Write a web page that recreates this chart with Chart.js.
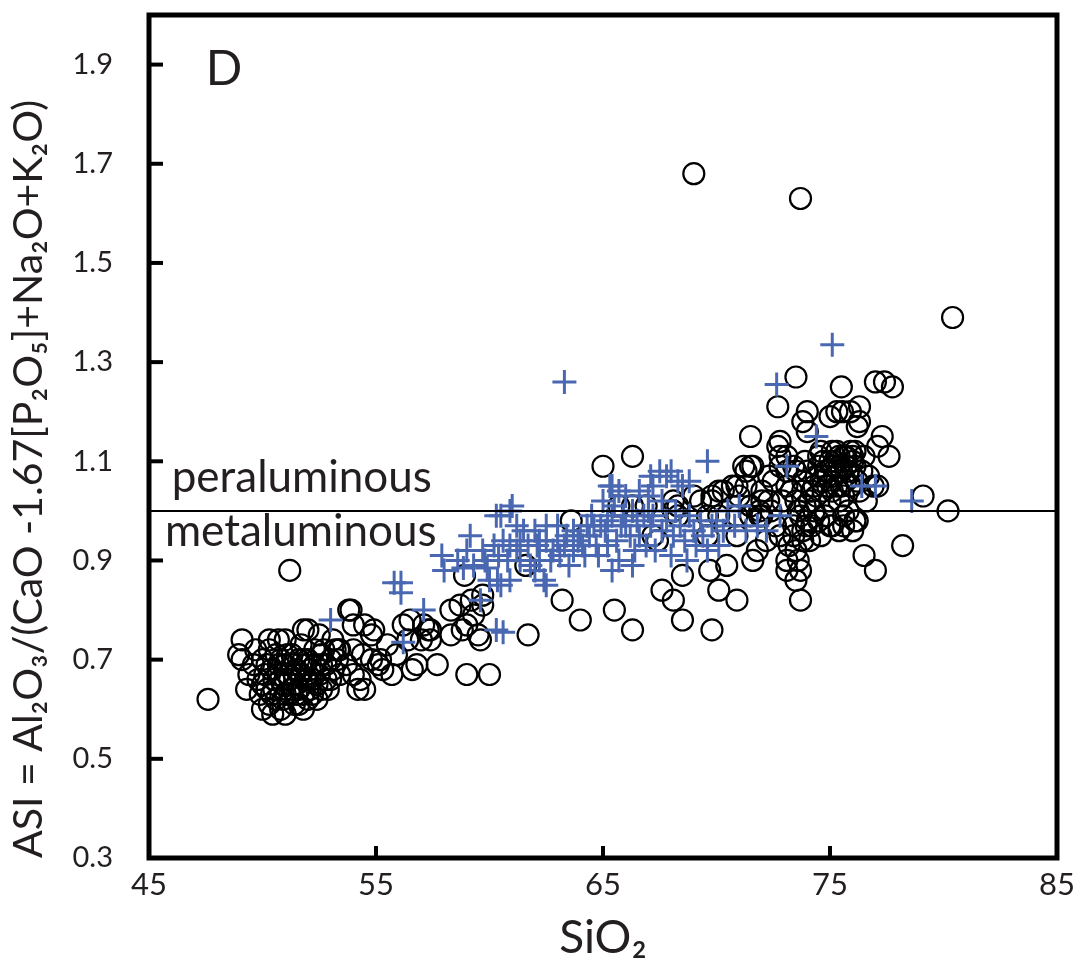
<!DOCTYPE html>
<html>
<head>
<meta charset="utf-8">
<script src="https://cdn.jsdelivr.net/npm/chart.js@4"></script>
<style>
  html, body { margin: 0; padding: 0; background: #fff; }
  #wrap { width: 1082px; height: 970px; }
</style>
</head>
<body>
<div id="wrap"><canvas id="asiChart" width="1082" height="970"></canvas></div>
<script>
// --- Data (SiO2 wt%, ASI) ---
const xTicks = [45, 55, 65, 75, 85];
const yTicks = [0.3, 0.5, 0.7, 0.9, 1.1, 1.3, 1.5, 1.7, 1.9];
const boundary = [[45, 1.0], [85, 1.0]];

// open circles
const circlePoints = [
  // isolated
  [47.6,0.62],[51.2,0.88],[69.0,1.68],[73.7,1.63],[80.4,1.39],[73.5,1.27],[80.2,1.00],[79.1,1.03],[78.2,0.93],[77.0,0.88],[76.5,0.91],
  // upper right group
  [75.5,1.25],[77.0,1.26],[77.4,1.26],[77.75,1.25],[72.7,1.21],[74.0,1.20],[73.8,1.18],[74.0,1.16],[75.0,1.19],[75.3,1.20],[75.55,1.20],
  [75.9,1.20],[76.3,1.21],[76.3,1.18],[76.2,1.17],[77.3,1.15],[77.1,1.13],[77.6,1.11],[72.7,1.13],[71.5,1.15],[72.8,1.14],
  // dense 74.5-76.3
  [74.6,1.06],[74.8,1.08],[75.0,1.10],[75.2,1.07],[75.4,1.09],[75.6,1.11],[75.8,1.08],[76.0,1.10],[76.2,1.06],[75.1,1.04],[74.9,1.05],
  [75.5,1.05],[75.7,1.06],[75.9,1.12],[76.1,1.09],[74.7,1.10],[75.3,1.12],[74.4,1.07],[75.6,1.03],[76.3,1.04],[74.2,1.04],[74.0,1.08],
  [73.8,1.06],[76.0,1.07],[75.2,1.10],[75.4,1.02],[75.8,1.00],[76.2,0.98],[76.6,1.02],[76.9,1.05],[77.1,1.05],[76.0,0.96],[75.6,0.97],
  [74.8,0.99],[75.0,0.97],[75.6,0.99],[76.1,0.98],[75.4,0.96],
  [74.5,1.09],[74.7,1.04],[74.9,1.07],[75.1,1.09],[75.3,1.05],[75.5,1.08],[75.7,1.09],[75.9,1.05],[76.1,1.12],[74.6,1.12],[75.4,1.11],
  [75.0,1.02],[74.4,1.03],[73.9,1.01],[74.2,0.97],[74.6,0.95],[76.4,1.08],[76.5,1.11],[76.7,1.07],
  // 72-74 group
  [72.8,1.09],[73.1,1.11],[72.5,1.06],[73.1,1.05],[73.5,1.02],[73.7,0.99],[73.4,0.97],[73.8,0.96],[74.1,0.94],[73.95,0.97],[74.5,0.98],
  [75.1,0.97],[72.2,0.94],[71.8,0.92],[71.6,0.90],[73.1,0.90],[73.1,0.88],[73.5,0.86],[73.7,0.82],[73.5,1.08],[73.8,1.04],[74.1,1.02],
  [74.3,1.00],[73.3,1.04],[72.9,1.02],[74.0,0.98],[73.6,1.00],[74.3,1.05],[73.9,1.10],[72.0,1.04],[72.3,1.02],[72.0,0.99],[72.6,0.97],
  [72.4,1.00],[72.8,0.95],[73.2,0.93],[73.5,0.92],[73.8,0.94],[73.4,0.95],[73.6,0.90],[73.7,0.88],
  // 66-72 along the boundary
  [66.9,1.01],[68.1,1.02],[68.1,1.00],[69.0,1.03],[69.3,1.02],[69.8,1.02],[70.3,1.04],[70.7,1.05],[71.0,1.03],[71.5,1.01],[71.9,1.00],
  [72.0,1.02],[69.6,0.99],[70.1,0.99],[70.9,0.99],[71.5,0.99],[71.9,0.99],[67.2,0.95],[67.4,0.94],[69.6,0.95],[70.9,0.95],[71.2,1.09],
  [71.5,1.09],[70.1,1.04],[70.9,1.05],[71.3,1.05],[71.6,1.09],[71.3,1.08],[72.8,1.11],[73.4,1.09],[73.1,1.08],[72.3,1.07],[74.5,1.11],
  [75.1,1.12],[75.7,1.11],[76.0,1.11],[65.7,1.01],[66.3,1.01],[68.3,1.01],[68.3,0.99],[69.8,1.03],
  // scattered below the boundary
  [65.0,1.09],[66.3,1.11],[63.6,0.98],[61.6,0.89],[58.9,0.87],[63.2,0.82],[64.0,0.78],[65.5,0.80],[66.3,0.76],[67.6,0.84],[68.1,0.82],
  [68.5,0.78],[68.5,0.87],[69.7,0.88],[70.1,0.84],[69.8,0.76],[70.45,0.89],[70.9,0.82],[61.7,0.75],
  // 53-60
  [53.9,0.80],[54.0,0.77],[54.9,0.76],[56.2,0.77],[57.1,0.77],[57.4,0.76],[58.3,0.80],[58.7,0.81],[59.2,0.82],[59.7,0.83],[59.7,0.81],
  [59.3,0.79],[59.0,0.77],[59.5,0.75],[59.6,0.74],[58.8,0.76],[58.3,0.75],[59.0,0.67],[60.0,0.67],[57.7,0.69],[56.8,0.69],[56.6,0.68],
  [55.2,0.70],[55.3,0.68],[56.5,0.78],[57.0,0.74],[56.4,0.74],[57.4,0.74],[57.3,0.76],
  [53.1,0.74],[53.4,0.72],[53.7,0.69],[54.0,0.67],[54.3,0.66],[54.5,0.64],[54.2,0.64],[54.8,0.70],[55.1,0.69],[54.4,0.71],[54.0,0.72],
  [53.35,0.72],[54.5,0.77],[54.8,0.75],[53.8,0.80],[55.5,0.73],[55.9,0.71],[55.7,0.67],[53.4,0.67],[53.0,0.66],[52.6,0.64],
  // basalt cluster
  [49.1,0.74],[48.95,0.71],[49.1,0.70],[50.3,0.74],[50.7,0.74],[51.0,0.74],[51.8,0.76],[52.0,0.76],[52.5,0.75],[50.0,0.60],[50.45,0.59],
  [51.0,0.59],[51.8,0.60],[49.4,0.67],[49.3,0.64],
  [49.8,0.66],[50.0,0.70],[50.2,0.64],[50.4,0.68],[50.6,0.62],[50.6,0.71],[50.8,0.66],[51.0,0.69],[51.0,0.63],[51.2,0.66],[51.3,0.71],
  [51.4,0.61],[51.5,0.68],[51.6,0.64],[51.8,0.70],[51.9,0.66],[52.0,0.62],[52.1,0.68],[52.3,0.72],[52.4,0.65],[52.6,0.69],[52.8,0.66],
  [53.0,0.70],[53.1,0.68],[52.7,0.72],[50.3,0.72],[49.9,0.63],[50.9,0.65],[51.1,0.67],[51.7,0.73],[52.2,0.63],[50.5,0.66],[51.6,0.61],
  [50.1,0.67],[52.5,0.67],[49.6,0.69],[50.7,0.69],[51.3,0.64],[52.9,0.64],[53.2,0.72],
  [50.2,0.69],[50.4,0.63],[50.8,0.70],[50.9,0.62],[51.1,0.71],[51.2,0.63],[51.4,0.67],[51.5,0.65],[51.7,0.67],[51.8,0.63],[52.0,0.66],
  [52.0,0.70],[52.2,0.66],[52.3,0.69],[52.4,0.62],[52.6,0.71],[50.0,0.65],[50.5,0.64],[50.7,0.67],[51.0,0.66],[51.3,0.69],[51.6,0.70],
  [51.9,0.69],[52.1,0.64],[50.3,0.61],[50.8,0.60],[51.5,0.63],[49.7,0.72],[52.8,0.69],[53.3,0.70]
];

// blue crosses
const crossPoints = [
  [63.3,1.26],[72.65,1.255],[75.1,1.335],[69.6,1.10],[78.6,1.02],[77.0,1.05],[72.8,0.99],[73.1,1.09],[74.4,1.15],[76.4,1.05],
  [55.8,0.855],[56.1,0.855],[56.1,0.835],[57.1,0.80],[53.0,0.78],[56.2,0.735],[60.6,0.755],[60.3,0.76],
  [58.85,0.885],[59.9,0.885],[60.35,0.86],[60.9,0.86],[59.6,0.82],[57.9,0.91],
  [59.15,0.95],[60.5,0.99],[61.0,1.01],[58.6,0.90],[59.3,0.89],[59.7,0.92],[60.2,0.93],[60.6,0.94],[60.9,0.93],[61.35,0.94],[61.7,0.93],
  [62.1,0.93],[62.2,0.94],[62.5,0.94],[63.0,0.94],[63.4,0.95],[63.7,0.96],[64.0,0.95],[64.3,0.97],[64.6,0.97],[64.9,0.97],[65.2,0.98],
  [65.4,0.99],[65.9,0.99],[66.3,1.00],[66.8,0.99],[67.2,0.99],
  [60.8,0.90],[61.35,0.90],[61.8,0.89],[62.2,0.90],[62.7,0.90],[63.1,0.91],[63.7,0.92],[64.1,0.93],[64.7,0.93],[65.2,0.93],[65.6,0.94],
  [66.2,0.95],[66.6,0.95],[60.0,0.86],[60.5,0.85],[62.4,0.86],[62.5,0.85],[65.4,0.88],[65.7,0.90],[66.3,0.89],
  [65.0,1.02],[65.4,1.05],[67.2,1.05],[65.3,1.05],[65.7,1.04],[67.1,1.07],[67.8,1.07],[68.3,1.06],[68.5,1.05],[60.9,1.00],[60.3,0.99],
  [67.5,1.08],[68.0,1.08],[68.8,1.06],[67.0,1.03],[67.6,1.02],[68.2,1.00],[68.8,0.99],[69.3,0.98],[69.8,0.97],[70.3,0.96],[70.8,0.97],
  [71.3,0.96],[67.1,0.97],[67.6,0.96],[68.1,0.95],[68.6,0.94],[69.1,0.93],[69.6,0.92],[70.1,0.93],[67.3,0.92],[68.0,0.91],[68.7,0.90],
  [66.9,0.93],[69.0,0.96],[70.5,1.00],[71.0,1.01],[71.8,0.97],[72.2,0.96],[66.0,0.97],[66.4,0.92],
  [61.5,0.96],[62.0,0.96],[62.8,0.92],[63.3,0.93],[63.9,0.94],[64.4,0.95],[64.5,0.99],[65.1,0.96],[65.8,0.97],[66.5,0.98],[67.0,1.00],
  [63.0,0.97],[62.5,0.97],[61.2,0.92],[60.4,0.91],[59.8,0.90],[64.2,0.91],[64.8,0.91],[65.5,1.01],[66.0,1.03],[66.6,1.04],[67.8,0.98],
  [68.4,0.97],[69.4,0.95],[70.0,0.98],[62.0,0.88],[63.5,0.89],[59.0,0.92],[58.0,0.88],[61.2,0.97]
];

const toXY = pts => pts.map(p => ({ x: p[0], y: p[1] }));
const FONT = "Lato, 'Open Sans', sans-serif";
const TEXT = "#231f20";

// --- Frame, inward ticks and labels ---
const framePlugin = {
  id: "frame",
  afterDraw(chart) {
    const { ctx, chartArea: a, scales } = chart;
    ctx.save();
    ctx.strokeStyle = "#000";
    ctx.lineWidth = 4;
    xTicks.forEach(v => {
      const px = scales.x.getPixelForValue(v);
      ctx.beginPath(); ctx.moveTo(px, a.bottom); ctx.lineTo(px, a.bottom - 12); ctx.stroke();
    });
    yTicks.forEach(v => {
      const py = scales.y.getPixelForValue(v);
      ctx.beginPath(); ctx.moveTo(a.left, py); ctx.lineTo(a.left + 14, py); ctx.stroke();
    });
    ctx.lineWidth = 5;
    ctx.strokeRect(a.left, a.top, a.right - a.left, a.bottom - a.top);

    ctx.fillStyle = TEXT;
    ctx.textBaseline = "middle";
    ctx.textAlign = "left";
    ctx.font = "44px " + FONT;
    ctx.fillText("peraluminous", scales.x.getPixelForValue(46.0), scales.y.getPixelForValue(1.066));
    ctx.fillText("metaluminous", scales.x.getPixelForValue(45.7), scales.y.getPixelForValue(0.958));
    ctx.font = "48px " + FONT;
    ctx.fillText("D", scales.x.getPixelForValue(47.5), scales.y.getPixelForValue(1.89));
    ctx.restore();
  }
};

new Chart(document.getElementById("asiChart"), {
  type: "scatter",
  data: {
    datasets: [
      {
        label: "boundary",
        data: toXY(boundary),
        showLine: true,
        borderColor: "#000",
        borderWidth: 2,
        pointRadius: 0
      },
      {
        label: "crosses",
        data: toXY(crossPoints),
        pointStyle: "cross",
        pointRadius: 12,
        borderColor: "#4a68b2",
        borderWidth: 3
      },
      {
        label: "circles",
        data: toXY(circlePoints),
        pointStyle: "circle",
        pointRadius: 10.5,
        borderColor: "#000",
        backgroundColor: "rgba(0,0,0,0)",
        borderWidth: 2.2
      }
    ]
  },
  options: {
    responsive: false,
    animation: false,
    layout: { padding: { left: 0, right: 25, top: 12, bottom: 0 } },
    plugins: { legend: { display: false }, tooltip: { enabled: false } },
    scales: {
      x: {
        type: "linear", min: 45, max: 85,
        afterBuildTicks: s => { s.ticks = xTicks.map(v => ({ value: v })); },
        afterFit: s => { s.height = 112; s.paddingLeft = 0; s.paddingRight = 0; },
        grid: { display: false, drawTicks: false },
        border: { display: false },
        ticks: { color: TEXT, padding: 8, font: { size: 31, family: FONT }, maxRotation: 0 },
        title: { display: true, text: "SiO\u2082", color: TEXT, font: { size: 46, family: FONT }, padding: { top: 0 } }
      },
      y: {
        type: "linear", min: 0.3, max: 2.0,
        afterBuildTicks: s => { s.ticks = yTicks.map(v => ({ value: v })); },
        afterFit: s => { s.width = 149; s.paddingTop = 0; s.paddingBottom = 0; },
        grid: { display: false, drawTicks: false },
        border: { display: false },
        ticks: { color: TEXT, padding: 36, font: { size: 29, family: FONT }, callback: v => v.toFixed(1) },
        title: {
          display: true,
          align: "start",
          text: "ASI = Al\u2082O\u2083/(CaO -1.67[P\u2082O\u2085]+Na\u2082O+K\u2082O)",
          color: TEXT, font: { size: 41, family: FONT }, padding: { bottom: 0 }
        }
      }
    }
  },
  plugins: [framePlugin]
});
</script>
</body>
</html>
